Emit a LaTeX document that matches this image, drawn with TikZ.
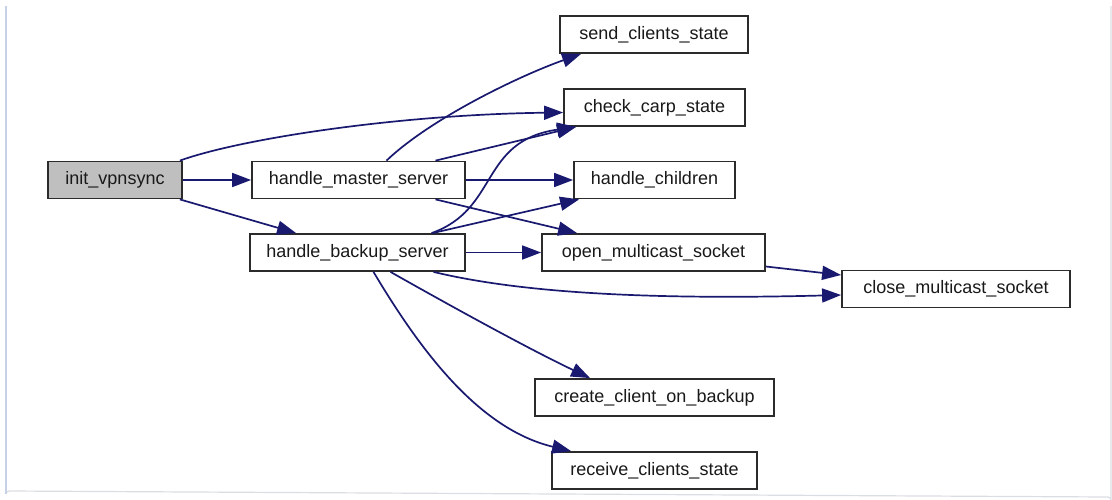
\documentclass[tikz,border=0pt]{standalone}
\usepackage{fontspec}
\setmainfont{Liberation Sans}
\usetikzlibrary{arrows.meta,calc}
\definecolor{edgeblue}{HTML}{191970}
\definecolor{boxline}{HTML}{2B2B2B}
\definecolor{rootfill}{HTML}{BFBFBF}
\definecolor{frameblue}{HTML}{C6D0E6}
\definecolor{framegray}{HTML}{DADDE4}
\tikzset{
  fnbox/.style={draw=boxline, line width=1.8pt, fill=white, inner sep=0pt,
    minimum height=37pt, font=\fontsize{18}{20}\selectfont, text=black!90},
  rootbox/.style={fnbox, fill=rootfill},
  call/.style={draw=edgeblue, line width=1.7pt,
    -{Triangle[length=19pt,width=14pt]}, fill=none},
}
\begin{document}
\begin{tikzpicture}[x=1pt,y=-1pt]
\useasboundingbox (0,0) rectangle (1112,499);
% panel frame
\draw[framegray, line width=1.2pt] (6,494) arc[start angle=180,end angle=270,radius=3] -- (1108,497)
  arc[start angle=270,end angle=360,radius=3] -- (1111,6);
\draw[frameblue, line width=1.5pt] (6,6) -- (6,494);

% functions
\node[rootbox, minimum width=134pt] (init)     at (115,180)   {init\_vpnsync};
\node[fnbox, minimum width=213pt]   (master)   at (358.5,180) {handle\_master\_server};
\node[fnbox, minimum width=215pt]   (backup)   at (357.5,252.5) {handle\_backup\_server};
\node[fnbox, minimum width=188pt]   (send)     at (654,34.5)  {send\_clients\_state};
\node[fnbox, minimum width=181pt]   (check)    at (654.5,107.5) {check\_carp\_state};
\node[fnbox, minimum width=161pt]   (children) at (654.5,180) {handle\_children};
\node[fnbox, minimum width=223pt]   (open)     at (653.5,252.5) {open\_multicast\_socket};
\node[fnbox, minimum width=228pt]   (close)    at (956,289)   {close\_multicast\_socket};
\node[fnbox, minimum width=239pt]   (create)   at (654.5,397.5) {create\_client\_on\_backup};
\node[fnbox, minimum width=205pt]   (receive)  at (654.5,470.5) {receive\_clients\_state};

% calls from init_vpnsync
\draw[call] ($(init.north east)+(-3,0)$) .. controls +(61,-22) and +(-164,2) .. ($(check.west)+(0,5)$);
\draw[call] (init.east) -- (master.west);
\draw[call] ($(init.south east)+(-3,0)$) -- ($(backup.north west)+(47,0)$);

% calls from handle_master_server
\draw[call] ($(master.north)+(28,0)$) .. controls +(44,-42) and +(-62,22) .. ($(send.south west)+(22,0)$);
\draw[call] ($(master.north)+(77,0)$) -- ($(check.south west)+(13,0)$);
\draw[call] (master.east) -- (children.west);
\draw[call] ($(master.south)+(77,0)$) -- ($(open.north west)+(36,0)$);

% calls from handle_backup_server
\draw[call] ($(backup.north)+(74,0)$) .. controls +(68,-24) and +(-97,14) .. ($(check.south west)+(13,0)$);
\draw[call] ($(backup.north)+(75,0)$) -- ($(children.south west)+(6,0)$);
\draw[call] (backup.east) -- (open.west);
\draw[call] ($(backup.south)+(76,0)$) .. controls +(87,21) and +(-192,5) .. ($(close.west)+(0,6)$);
\draw[call] ($(backup.south)+(33,0)$) .. controls +(60,34) and +(-61,-29) .. ($(create.north west)+(56,0)$);
\draw[call] ($(backup.south)+(16,0)$) .. controls +(47,79) and +(-92,-22) .. ($(receive.north west)+(20,0)$);

% call from open_multicast_socket
\draw[call] ($(open.east)+(0,14)$) -- ($(close.west)+(0,-14)$);
\end{tikzpicture}
\end{document}
